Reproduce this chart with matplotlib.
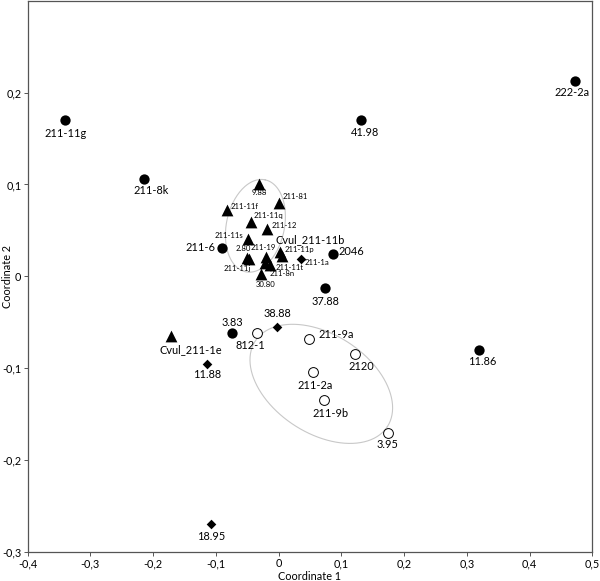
import numpy as np
import matplotlib
matplotlib.use("Agg")
import matplotlib.pyplot as plt
from matplotlib.ticker import FuncFormatter

plt.rcParams["font.family"] = ["Lato", "DejaVu Sans"]

# Triangles
tri_labels = ["9.88", "211-81", "211-11f", "211-11q", "211-12", "211-11s", "Cvul_211-11b",
              "211-11p", "2.80", "211-11j", "211-19", "211-8n", "211-11t", "30.80", "Cvul_211-1e"]
tri_x = [-0.031, 0.001, -0.083, -0.044, -0.019, -0.048, 0.002, 0.006, -0.050, -0.047,
         -0.020, -0.021, -0.013, -0.028, -0.172]
tri_y = [0.100, 0.080, 0.072, 0.059, 0.052, 0.041, 0.027, 0.022, 0.020, 0.019,
         0.021, 0.015, 0.012, 0.003, -0.065]

# Filled circles
dot_labels = ["211-11g", "41.98", "222-2a", "211-8k", "211-6", "2046", "37.88", "3.83", "11.86"]
dot_x = [-0.340, 0.132, 0.473, -0.215, -0.091, 0.086, 0.074, -0.075, 0.320]
dot_y = [0.170, 0.170, 0.213, 0.106, 0.031, 0.024, -0.013, -0.062, -0.080]

# Diamonds
dia_labels = ["211-1a", "38.88", "11.88", "18.95"]
dia_x = [0.035, -0.002, -0.114, -0.107]
dia_y = [0.019, -0.055, -0.095, -0.269]

# Open circles
open_labels = ["812-1", "211-9a", "2120", "211-2a", "211-9b", "3.95"]
open_x = [-0.035, 0.049, 0.121, 0.054, 0.073, 0.174]
open_y = [-0.062, -0.068, -0.084, -0.104, -0.135, -0.171]

# group ellipses: centre (data), semi axes (px), angle (deg)
ell_center = [(-0.037, 0.055), (0.068, -0.117)]
ell_axes = [(47.0, 29.0), (78.7, 49.4)]
ell_angle = [78.0, -32.9]

small = {"9.88", "211-81", "211-11f", "211-11q", "211-12", "211-11s", "211-11p", "2.80",
         "211-11j", "211-19", "211-8n", "211-11t", "30.80", "211-1a"}

# label offsets in pixels (dx, dy, ha)
offsets = {
    "211-8k": (7, -12, "center"), "41.98": (4, -12, "center"), "222-2a": (-3, -12, "center"),
    "11.86": (3, -12, "center"), "211-6": (-6, 0, "right"), "2046": (6, 3, "left"),
    "Cvul_211-11b": (-4, 12, "left"), "211-11p": (2, 7, "left"), "211-1a": (4, -4, "left"),
    "211-11t": (5.5, -2, "left"), "211-8n": (4, -11, "left"), "30.80": (4.5, -10.5, "center"),
    "211-11j": (-11.5, -10, "center"), "2.80": (-3.5, 9, "center"), "211-19": (-2.5, 9.5, "center"),
    "211-11s": (-5.5, 3.5, "right"), "211-12": (5, 3.5, "left"), "211-11q": (2.5, 6.5, "left"),
    "211-11f": (4.5, 3.5, "left"), "211-81": (3.5, 6, "left"), "9.88": (0, -8.5, "center"),
    "Cvul_211-1e": (-11.5, -13.5, "left"), "3.83": (1, 11, "center"), "11.88": (0, -11, "center"),
    "38.88": (0, 13, "center"), "812-1": (-6, -12.5, "center"), "211-9a": (9, 4, "left"),
    "2120": (6.5, -12.5, "center"), "211-2a": (2.5, -13.5, "center"), "211-9b": (6, -13.5, "center"),
    "3.95": (0, -11.5, "center"),
}

fig = plt.figure(figsize=(6, 5.81), dpi=100)
ax = fig.add_axes([27.6 / 600, 29 / 581, 564.8 / 600, 551.3 / 581])
ax.set_xlim(-0.4, 0.5)
ax.set_ylim(-0.3, 0.3)

# px per data unit
sx = 564.8 / 0.9
sy = 551.3 / 0.6

t = np.linspace(0, 2 * np.pi, 200)
for (cx, cy), (a, b), ang in zip(ell_center, ell_axes, ell_angle):
    th = np.radians(ang)
    u, v = a * np.cos(t), b * np.sin(t)
    ax.plot(cx + (u * np.cos(th) - v * np.sin(th)) / sx,
            cy + (u * np.sin(th) + v * np.cos(th)) / sy,
            color="#c8c8c8", lw=0.8, zorder=1)

ax.scatter(tri_x, tri_y, marker="^", s=72, color="black", linewidths=0, zorder=3)
ax.scatter(dot_x, dot_y, marker="o", s=55, color="black", linewidths=0, zorder=3)
ax.scatter(dia_x, dia_y, marker="D", s=24, color="black", linewidths=0, zorder=3)
ax.scatter(open_x, open_y, marker="o", s=50, facecolor="white", edgecolor="black",
           linewidths=0.7, zorder=3)

for labels, xs, ys in [(tri_labels, tri_x, tri_y), (dot_labels, dot_x, dot_y),
                       (dia_labels, dia_x, dia_y), (open_labels, open_x, open_y)]:
    for lab, x, y in zip(labels, xs, ys):
        dx, dy, ha = offsets.get(lab, (0, -13, "center"))
        ax.annotate(lab, (x, y), xytext=(dx, dy), textcoords="offset pixels",
                    ha=ha, va="center", fontsize=5.6 if lab in small else 7.9, zorder=4)

fmt = FuncFormatter(lambda v, p: "0" if abs(v) < 1e-9 else f"{v:.1f}".replace(".", ","))
ax.set_xticks(np.arange(-0.4, 0.51, 0.1))
ax.set_yticks(np.arange(-0.3, 0.21, 0.1))
ax.xaxis.set_major_formatter(fmt)
ax.yaxis.set_major_formatter(fmt)
ax.tick_params(labelsize=7.8, length=3, width=0.7, color="#555555", pad=1.5)
for sp in ax.spines.values():
    sp.set_color("#555555")
    sp.set_linewidth(0.9)

ax.set_xlabel("Coordinate 1", fontsize=7.8, labelpad=1)
ax.set_ylabel("Coordinate 2", fontsize=7.8)
ax.yaxis.set_label_coords(-0.026, 0.5)

fig.savefig("out.png", dpi=100)
